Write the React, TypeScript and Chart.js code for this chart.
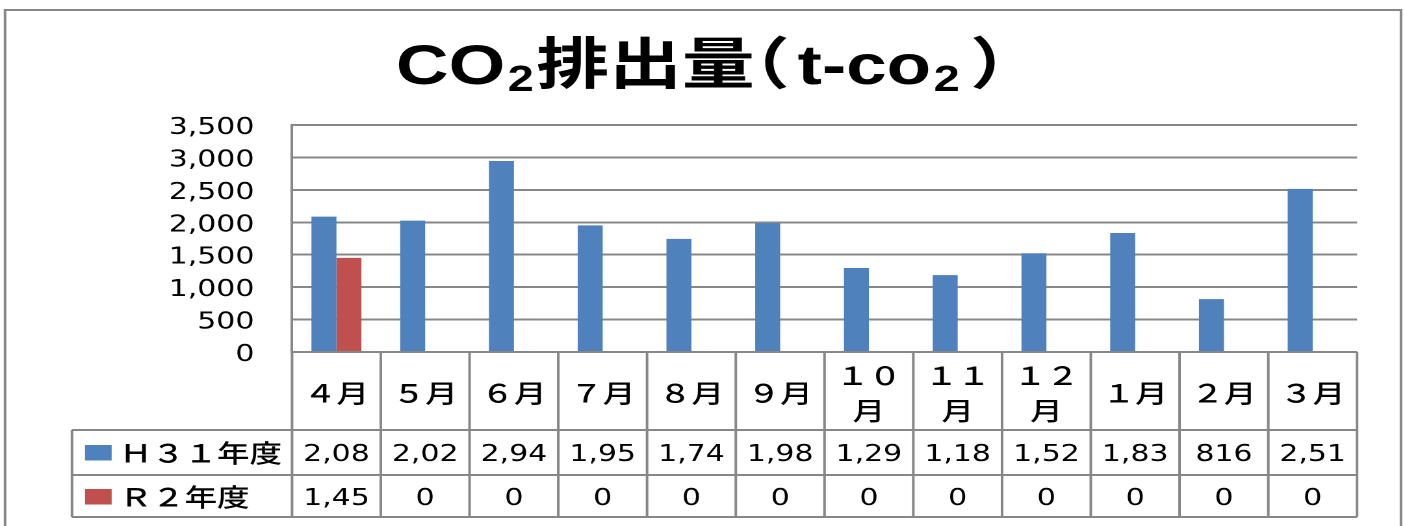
import { useEffect, useRef } from 'react';
import { Chart, registerables } from 'chart.js';

Chart.register(...registerables);

// ---- data ----
const categories = ['４月', '５月', '６月', '７月', '８月', '９月', '１０月', '１１月', '１２月', '１月', '２月', '３月'];
const seriesLabels = ['Ｈ３１年度', 'Ｒ２年度'];
const h31Values = [2088, 2026, 2945, 1952, 1745, 1985, 1295, 1185, 1522, 1835, 816, 2515];
const r2Values = [1452, 0, 0, 0, 0, 0, 0, 0, 0, 0, 0, 0];
const yTicks = [0, 500, 1000, 1500, 2000, 2500, 3000, 3500];
// [text, kind]  kind: n = normal, s = subscript, p = tight bracket
const titleSegments: [string, string][] = [
  ['CO', 'n'],
  ['2', 's'],
  ['排出量', 'n'],
  ['（', 'p'],
  ['t-co', 'n'],
  ['2', 's'],
  ['）', 'p'],
];

// ---- geometry (internal canvas units; canvas is stretched horizontally) ----
const CW = 1081;
const CH = 526;
const LINE = '#878787';
const BLUE = '#4F81BD';
const RED = '#C0504D';
const CJK = "'Noto Sans CJK JP', 'Noto Sans CJK SC', sans-serif";
const NUM = "'DejaVu Sans', sans-serif";

function seg(ctx: CanvasRenderingContext2D, x1: number, y1: number, x2: number, y2: number) {
  ctx.beginPath();
  ctx.moveTo(x1, y1);
  ctx.lineTo(x2, y2);
  ctx.stroke();
}

function wrap(ctx: CanvasRenderingContext2D, text: string, maxW: number): string[] {
  if (ctx.measureText(text).width <= maxW) return [text];
  const lines: string[] = [];
  let cur = '';
  for (const ch of Array.from(text)) {
    if (cur && ctx.measureText(cur + ch).width > maxW) {
      lines.push(cur);
      cur = ch;
    } else cur += ch;
  }
  if (cur) lines.push(cur);
  return lines;
}

function clip(ctx: CanvasRenderingContext2D, text: string, maxW: number): string {
  let t = text;
  while (t.length > 1 && ctx.measureText(t).width > maxW) t = t.slice(0, -1);
  return t;
}

const excelPlugin = {
  id: 'excelTable',
  beforeDraw(chart: any) {
    const ctx = chart.ctx;
    ctx.save();
    ctx.fillStyle = '#fff';
    ctx.fillRect(0, 0, chart.width, chart.height);
    ctx.restore();
  },
  afterDraw(chart: any) {
    const ctx: CanvasRenderingContext2D = chart.ctx;
    const a = chart.chartArea;
    const xs = chart.scales.x;
    const n = categories.length;
    const cw = (a.right - a.left) / n;
    const top = a.bottom;
    const r1 = 430;
    const r2 = 475;
    const r3 = 517;
    const tableLeft = 55.4;

    ctx.save();
    ctx.strokeStyle = LINE;
    ctx.lineWidth = 2;
    seg(ctx, a.left, top, a.right, top);
    seg(ctx, tableLeft, r1, a.right, r1);
    seg(ctx, tableLeft, r2, a.right, r2);
    seg(ctx, tableLeft, r3, a.right, r3);
    seg(ctx, tableLeft, r1, tableLeft, r3);
    for (let i = 0; i <= n; i++) {
      const x = i < n ? xs.getPixelForValue(i) - cw / 2 : xs.getPixelForValue(n - 1) + cw / 2;
      seg(ctx, x, top, x, r3);
    }

    // header labels
    ctx.fillStyle = '#000';
    ctx.textAlign = 'center';
    ctx.textBaseline = 'middle';
    ctx.font = `500 25px ${CJK}`;
    categories.forEach((c, i) => {
      const cx = xs.getPixelForValue(i);
      const lines = wrap(ctx, c, cw - 8);
      const lh = 35;
      const mid = 393;
      lines.forEach((l, k) => {
        ctx.fillText(l, cx, mid + (k - (lines.length - 1) / 2) * lh);
      });
    });

    // legend keys and values
    const rows = [
      { label: seriesLabels[0], color: BLUE, values: h31Values, y: 453 },
      { label: seriesLabels[1], color: RED, values: r2Values, y: 497 },
    ];
    rows.forEach((r) => {
      ctx.fillStyle = r.color;
      ctx.fillRect(65.4, r.y - 8, 20.5, 15.5);
      ctx.fillStyle = '#000';
      ctx.textAlign = 'left';
      ctx.font = `500 25px ${CJK}`;
      ctx.fillText(r.label, 92, r.y);
      ctx.textAlign = 'center';
      ctx.font = `23px ${NUM}`;
      r.values.forEach((v, i) => {
        const cx = xs.getPixelForValue(i);
        const t = clip(ctx, v.toLocaleString('en-US'), cw - 8);
        ctx.fillText(t, cx, r.y + 2);
      });
    });

    // outer frame
    ctx.strokeStyle = LINE;
    ctx.lineWidth = 2;
    ctx.strokeRect(3.9, 10, 1077.9 - 3.9, 600);

    // title
    ctx.fillStyle = '#000';
    ctx.textAlign = 'left';
    ctx.textBaseline = 'alphabetic';
    const mainFont = `bold 56px 'Liberation Sans', ${CJK}`;
    const subFont = `bold 36px 'Liberation Sans', ${CJK}`;
    const pad = 8;
    type Piece = { t: string; font: string; x: number; y: number };
    const pieces: Piece[] = [];
    let x = 0;
    titleSegments.forEach(([t, kind]) => {
      const font = kind === 's' ? subFont : mainFont;
      ctx.font = font;
      if (kind === 'p') {
        const m = ctx.measureText(t);
        const ink = m.actualBoundingBoxLeft + m.actualBoundingBoxRight;
        pieces.push({ t, font, x: x + pad + m.actualBoundingBoxLeft, y: 84 });
        x += ink + 2 * pad;
      } else if (kind === 's') {
        pieces.push({ t, font, x: x + 2, y: 91 });
        x += ctx.measureText(t).width + 4;
      } else {
        pieces.push({ t, font, x, y: 84 });
        x += ctx.measureText(t).width;
      }
    });
    const x0 = 539 - x / 2;
    pieces.forEach((p) => {
      ctx.font = p.font;
      ctx.fillText(p.t, x0 + p.x, p.y);
    });
    ctx.restore();
  },
};

export default function App() {
  const ref = useRef<HTMLCanvasElement>(null);
  useEffect(() => {
    const canvas = ref.current!;
    const chart = new Chart(canvas, {
      type: 'bar',
      data: {
        labels: categories,
        datasets: [
          { label: seriesLabels[0], data: h31Values, backgroundColor: BLUE, categoryPercentage: 0.563, barPercentage: 1 },
          { label: seriesLabels[1], data: r2Values, backgroundColor: RED, categoryPercentage: 0.563, barPercentage: 1 },
        ],
      },
      options: {
        responsive: false,
        animation: false,
        devicePixelRatio: 2,
        layout: { padding: { left: 0, right: CW - 1044.1, top: 125, bottom: CH - 352 } },
        plugins: {
          legend: { display: false },
          title: { display: false },
          tooltip: { enabled: false },
        },
        scales: {
          x: { display: false, offset: true },
          y: {
            min: 0,
            max: 3500,
            afterBuildTicks: (s: any) => {
              s.ticks = yTicks.map((v) => ({ value: v }));
            },
            afterFit: (s: any) => {
              s.width = 224.7;
            },
            ticks: {
              padding: 29,
              labelOffset: 3,
              color: '#000',
              font: { family: 'DejaVu Sans', size: 23 },
              callback: (v: any) => Number(v).toLocaleString('en-US'),
            },
            grid: { color: LINE, lineWidth: 2, drawTicks: false },
            border: { color: LINE, width: 2 },
          },
        },
      },
      plugins: [excelPlugin],
    } as any);
    return () => chart.destroy();
  }, []);
  return (
    <div style={{ position: 'fixed', left: 0, top: 0, width: 1405, height: 526, background: '#fff', overflow: 'hidden' }}>
      <canvas ref={ref} width={CW} height={CH} style={{ width: '1405px', height: '526px', display: 'block' }} />
    </div>
  );
}
